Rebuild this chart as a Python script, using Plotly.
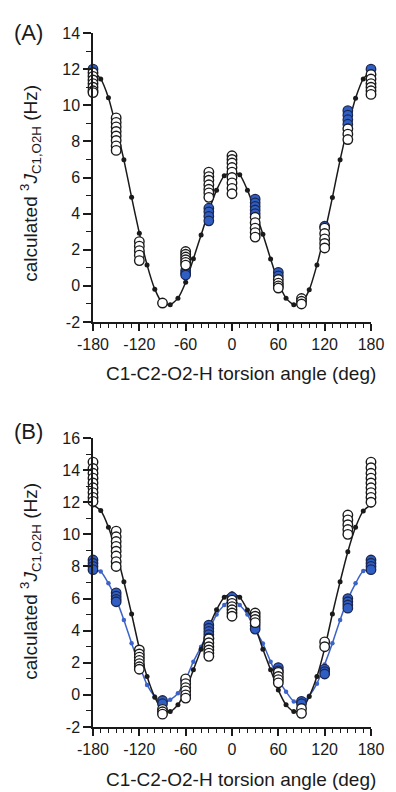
import plotly.graph_objects as go

# ---------------- data ----------------
angles = [-180, -170, -160, -150, -140, -130, -120, -110, -100, -90, -80, -70, -60, -50, -40, -30, -20, -10,
          0, 10, 20, 30, 40, 50, 60, 70, 80, 90, 100, 110, 120, 130, 140, 150, 160, 170, 180]

a_curve = [11.9, 11.46, 10.42, 8.8, 6.98, 4.9, 2.92, 1.16, -0.18, -0.95, -1.05, -0.68, 0.2, 1.5, 2.82, 4.15, 5.3, 6.1,
           6.3, 6.15, 5.3, 4.15, 2.86, 1.49, 0.2, -0.68, -1.05, -0.95, -0.22, 1.16, 2.92, 4.89, 6.98, 8.8, 10.39, 11.46, 11.9]

b_curve_black = [11.83, 11.48, 10.44, 8.9, 7.05, 5.04, 2.9, 1.14, -0.14, -0.95, -1.04, -0.62, 0.3, 1.56, 2.84, 4.2, 5.3, 6.08,
                 6.3, 6.08, 5.29, 4.25, 2.84, 1.56, 0.3, -0.62, -1.04, -0.95, -0.1, 1.14, 2.9, 5.04, 7.05, 8.92, 10.44, 11.46, 11.83]

b_curve_blue = [7.78, 7.68, 6.95, 5.95, 4.67, 3.22, 1.85, 0.62, -0.1, -0.5, -0.31, 0.1, 0.95, 2.07, 3.0, 4.0, 5.0, 5.6,
                5.95, 5.6, 5.0, 4.05, 3.2, 2.07, 0.95, 0.2, -0.41, -0.5, -0.05, 0.7, 1.9, 3.22, 4.67, 5.95, 6.95, 7.72, 7.78]

cluster_angles = [-180, -150, -120, -90, -60, -30, 0, 30, 60, 90, 120, 150, 180]

a_open = [[11.8, 11.6, 11.4, 11.2, 11.0, 10.8, 10.7],
          [9.3, 9.05, 8.8, 8.55, 8.3, 8.05, 7.75, 7.5],
          [2.45, 2.2, 1.95, 1.7, 1.4],
          [-0.95],
          [1.9, 1.75, 1.6, 1.45, 1.3, 1.15],
          [6.3, 6.05, 5.85, 5.6, 5.35, 5.15, 4.9],
          [7.2, 7.0, 6.8, 6.55, 6.3, 6.0, 5.7, 5.4, 5.1],
          [3.8, 3.5, 3.2, 2.95, 2.7],
          [0.35, 0.15, 0.0, -0.12],
          [-0.7, -0.85, -1.0],
          [3.2, 2.9, 2.6, 2.35, 2.1],
          [8.7, 8.4, 8.1],
          [11.7, 11.45, 11.2, 11.0, 10.8, 10.6]]

a_blue = [[12.0], [], [], [], [0.85, 0.7, 0.6], [4.3, 4.1, 3.85, 3.6], [], [4.8, 4.6, 4.4, 4.2, 4.0],
          [0.75, 0.55], [], [3.3], [9.7, 9.45, 9.2, 8.95], [12.0]]

b_open = [[14.5, 14.1, 13.8, 13.5, 13.2, 12.9, 12.6, 12.3, 12.05],
          [10.2, 9.85, 9.55, 9.25, 8.95, 8.65, 8.3, 8.0],
          [2.8, 2.55, 2.35, 2.15, 1.95, 1.75, 1.6],
          [-0.9, -1.05, -1.2],
          [1.0, 0.7, 0.45, 0.25, 0.0, -0.2],
          [3.5, 3.25, 3.0, 2.8, 2.6, 2.4],
          [5.9, 5.7, 5.5, 5.3, 5.1, 4.9],
          [5.1, 4.9, 4.7, 4.5],
          [1.4, 1.15, 0.95, 0.75],
          [-0.85, -1.15],
          [3.3, 3.0],
          [11.2, 10.9, 10.6, 10.3, 10.0],
          [14.5, 14.15, 13.8, 13.5, 13.2, 12.9, 12.6, 12.3, 12.0]]

b_blue = [[8.4, 8.2, 8.0, 7.8],
          [6.35, 6.15, 5.95, 5.8],
          [1.8],
          [-0.35, -0.55],
          [0.9],
          [4.35, 4.15, 3.95, 3.75, 3.55],
          [6.1],
          [4.3, 4.1],
          [1.7, 1.5],
          [-0.4, -0.55],
          [1.6, 1.45, 1.3],
          [6.0, 5.8, 5.6, 5.4],
          [8.4, 8.2, 8.0, 7.8]]

x_ticks = [-180, -120, -60, 0, 60, 120, 180]
x_tick_labels = ["-180", "-120", "-60", "0", "60", "120", "180"]
ya_ticks = [-2, 0, 2, 4, 6, 8, 10, 12, 14]
yb_ticks = [-2, 0, 2, 4, 6, 8, 10, 12, 14, 16]
x_title = "C1-C2-O2-H torsion angle (deg)"
y_title = "calculated <sup>3</sup><i>J</i><sub>C1,O2H</sub> (Hz)"

# ---------------- style ----------------
FONT = "Liberation Sans, Arial, Helvetica, sans-serif"
INK = "#1a1a1a"
BLUE = "#2f5fc4"
BLUE_LINE = "#3d63c8"
W, H = 396, 792
L, R, T, B = 93, 17, 33, 65
ph = H - T - B


def flatten(groups):
    xs, ys = [], []
    for ang, vals in zip(cluster_angles, groups):
        for v in vals:
            xs.append(ang)
            ys.append(v)
    return xs, ys


fig = go.Figure()


def add_curve(y, color, xa, ya, dot):
    fig.add_trace(go.Scatter(x=angles, y=y, mode="lines+markers", xaxis=xa, yaxis=ya,
                             line=dict(color=color, width=1.5, shape="spline", smoothing=0.6),
                             marker=dict(color=color, size=dot), cliponaxis=False,
                             showlegend=False, hoverinfo="skip"))


def add_open(groups, xa, ya):
    xs, ys = flatten(groups)
    fig.add_trace(go.Scatter(x=xs, y=ys, mode="markers", xaxis=xa, yaxis=ya,
                             marker=dict(symbol="circle", size=9.5, color="white",
                                         line=dict(color=INK, width=1.4)),
                             cliponaxis=False, showlegend=False))


def add_blue(groups, xa, ya):
    xs, ys = flatten(groups)
    fig.add_trace(go.Scatter(x=xs, y=ys, mode="markers", xaxis=xa, yaxis=ya,
                             marker=dict(symbol="circle", size=9.5, color=BLUE,
                                         line=dict(color="#1b2750", width=1.3)),
                             cliponaxis=False, showlegend=False))


# panel A
add_curve(a_curve, INK, "x", "y", 5)
add_blue(a_blue, "x", "y")
add_open(a_open, "x", "y")

# panel B
add_curve(b_curve_blue, BLUE_LINE, "x2", "y2", 4.5)
add_curve(b_curve_black, INK, "x2", "y2", 5)
add_blue(b_blue, "x2", "y2")
add_open(b_open, "x2", "y2")

xcommon = dict(range=[-180, 180], tickmode="array", tickvals=x_ticks, ticktext=x_tick_labels,
               ticks="outside", ticklen=7, tickwidth=1.5,
               tickcolor=INK, showline=True, linewidth=1.5, linecolor=INK, showgrid=False,
               zeroline=False, tickfont=dict(size=16, color=INK, family=FONT),
               minor=dict(tickvals=[a for a in angles if a not in x_ticks], ticks="outside",
                          ticklen=4, tickwidth=1.2, tickcolor=INK))


def ycommon(top, tv):
    return dict(range=[-2, top], tickmode="array", tickvals=tv, ticktext=[str(v) for v in tv],
                ticks="outside", ticklen=8, tickwidth=1.5,
                tickcolor=INK, showline=True, linewidth=1.5, linecolor=INK, showgrid=False,
                zeroline=False, tickfont=dict(size=16, color=INK, family=FONT),
                minor=dict(dtick=1, tick0=-2, ticks="outside", ticklen=5, tickwidth=1.2, tickcolor=INK))


a_bottom = (H - B - 322) / ph
b_top = (H - B - 438) / ph

fig.update_layout(
    width=W, height=H, autosize=False,
    margin=dict(l=L, r=R, t=T, b=B, pad=0),
    paper_bgcolor="white", plot_bgcolor="white",
    font=dict(family=FONT, color=INK),
    xaxis=dict(domain=[0, 1], anchor="y", **xcommon),
    yaxis=dict(domain=[a_bottom, 1], anchor="x", **ycommon(14, ya_ticks)),
    xaxis2=dict(domain=[0, 1], anchor="y2", **xcommon),
    yaxis2=dict(domain=[0, b_top], anchor="x2", **ycommon(16, yb_ticks)),
)


def px_x(px):
    return (px - L) / (W - L - R)


def px_y(py):
    return (H - B - py) / ph


ann = []
for cy_x, cy_y, lab_y, lab in [(373, 183, 32, "(A)"), (780, 581, 431, "(B)")]:
    ann.append(dict(text=x_title, x=px_x(245), y=px_y(cy_x), xref="paper", yref="paper",
                    xanchor="center", yanchor="middle", showarrow=False,
                    font=dict(size=19, family=FONT, color=INK)))
    ann.append(dict(text=y_title, x=px_x(28), y=px_y(cy_y), xref="paper", yref="paper",
                    xanchor="center", yanchor="middle", textangle=-90, showarrow=False,
                    font=dict(size=19, family=FONT, color=INK)))
    ann.append(dict(text=lab, x=px_x(27), y=px_y(lab_y), xref="paper", yref="paper",
                    xanchor="center", yanchor="middle", showarrow=False,
                    font=dict(size=22, family=FONT, color=INK)))
fig.update_layout(annotations=ann)

fig.write_html("out.html")
